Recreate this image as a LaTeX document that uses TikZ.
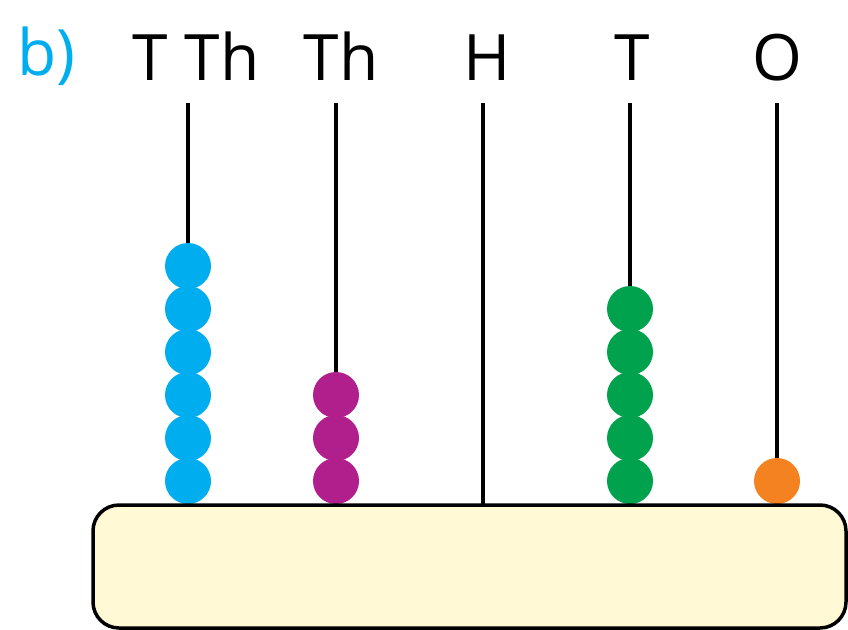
\documentclass[tikz,border=0pt]{standalone}
\usepackage{fontspec}
\setmainfont{Open Sans}
\definecolor{bblue}{HTML}{00AEEF}
\definecolor{bpurple}{HTML}{B01F8C}
\definecolor{bgreen}{HTML}{00A24D}
\definecolor{borange}{HTML}{F58220}
\definecolor{basefill}{HTML}{FFF9D6}
\begin{document}
\begin{tikzpicture}[x=1pt,y=-1pt,
  lbl/.style={inner sep=0pt,anchor=base,font=\fontsize{64}{70}\selectfont},
  rod/.style={line width=4pt,black},
  bead/.style={circle,inner sep=0pt,minimum size=46pt,fill=#1}]
\useasboundingbox (0,0) rectangle (848,629);
% labels
\node[lbl,anchor=base west,text=bblue] (b) at (17,75) {b)};
\node[lbl] (l1) at (196,80) {T Th};
\node[lbl] (l2) at (341,80) {Th};
\node[lbl] (l3) at (487,80) {H};
\node[lbl] (l4) at (632,80) {T};
\node[lbl] (l5) at (777,80) {O};
% rods
\foreach \i/\x in {1/188,2/336,3/483,4/630,5/777}{
  \coordinate (top\i) at (\x,103);
  \coordinate (bot\i) at (\x,505);
  \draw[rod] (top\i) -- (bot\i);
}
% beads
\foreach \k in {1,...,6}{\node[bead=bblue] (tt\k) at (188,{524-43*\k}) {};}
\foreach \k in {1,...,3}{\node[bead=bpurple] (th\k) at (336,{524-43*\k}) {};}
\foreach \k in {1,...,5}{\node[bead=bgreen] (te\k) at (630,{524-43*\k}) {};}
\node[bead=borange] (o1) at (777,481) {};
% base
\draw[line width=3.5pt,fill=basefill,rounded corners=26pt] (93,505) rectangle (846,628);
\end{tikzpicture}
\end{document}
